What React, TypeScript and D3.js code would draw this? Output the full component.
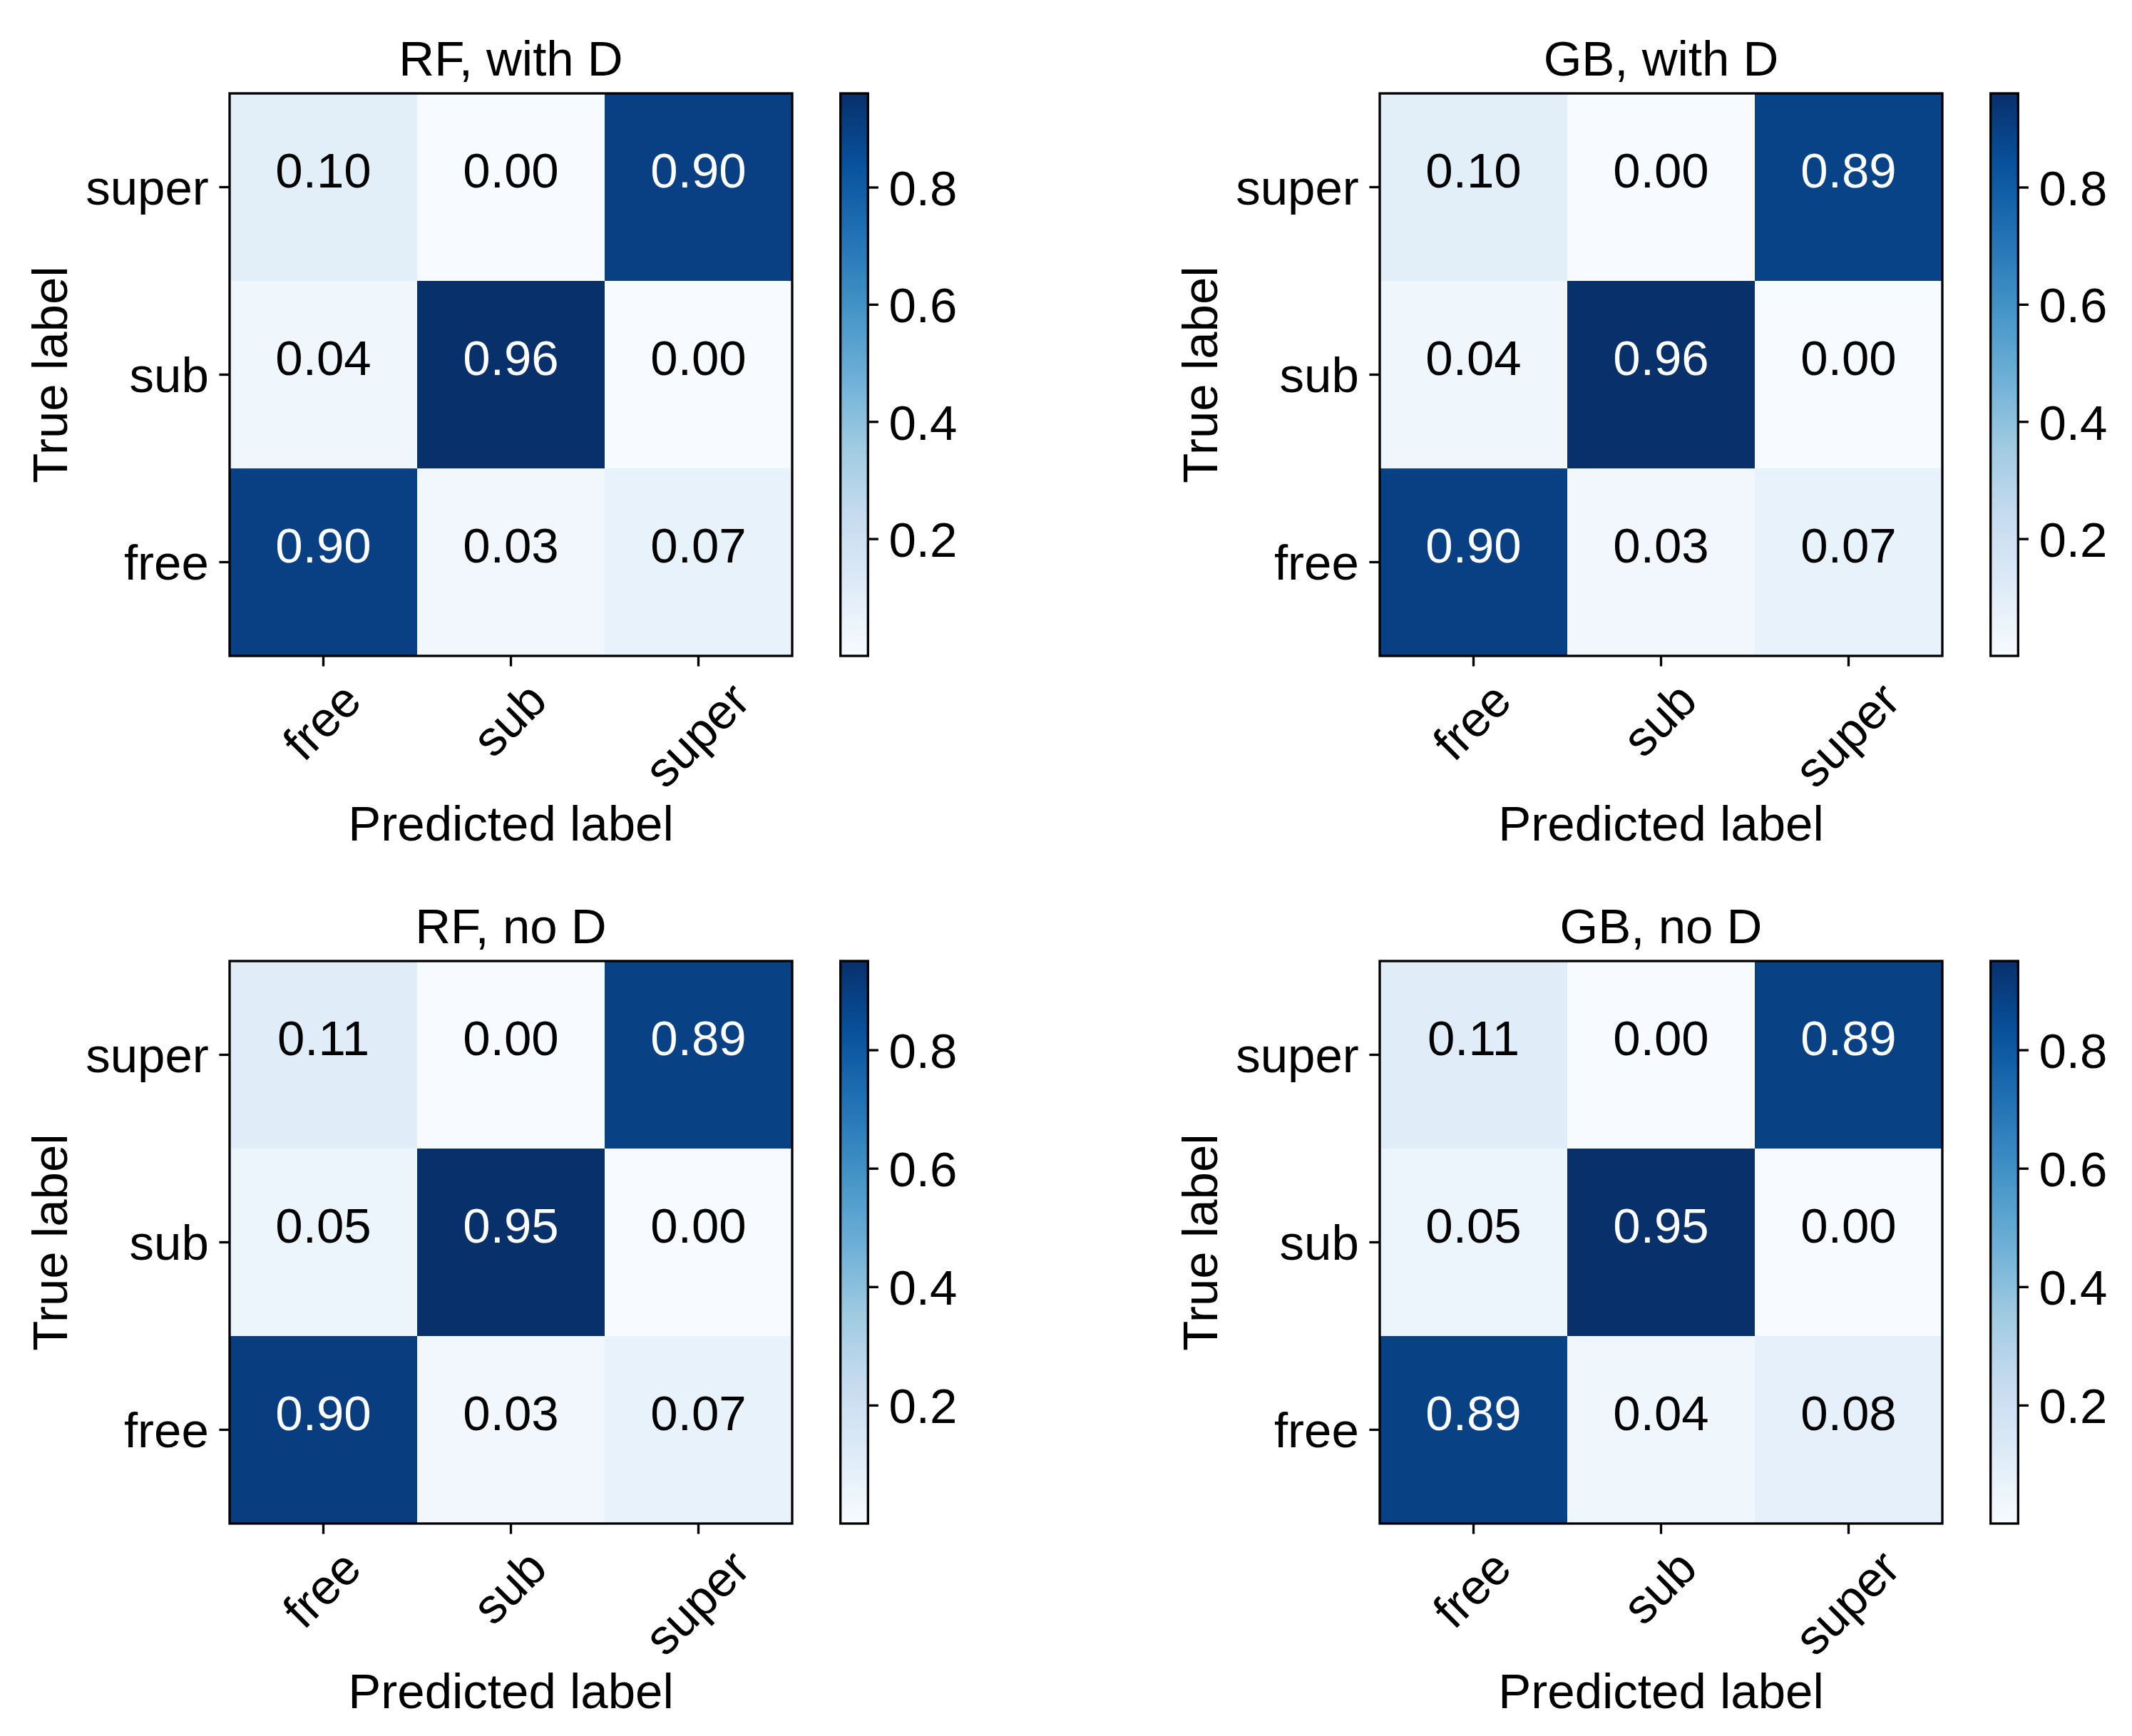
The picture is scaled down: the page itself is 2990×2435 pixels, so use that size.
import React, { useEffect, useRef } from 'react';
import * as d3 from 'd3';

const classes = ['free', 'sub', 'super'];
const panelTitles = ['RF, with D', 'GB, with D', 'RF, no D', 'GB, no D'];

// rows = true label (free, sub, super), columns = predicted label
const rfWithD = [
  [0.90, 0.03, 0.07],
  [0.04, 0.96, 0.00],
  [0.10, 0.00, 0.90],
];
const gbWithD = [
  [0.90, 0.03, 0.07],
  [0.04, 0.96, 0.00],
  [0.10, 0.00, 0.89],
];
const rfNoD = [
  [0.90, 0.03, 0.07],
  [0.05, 0.95, 0.00],
  [0.11, 0.00, 0.89],
];
const gbNoD = [
  [0.89, 0.04, 0.08],
  [0.05, 0.95, 0.00],
  [0.11, 0.00, 0.89],
];
const matrices = [rfWithD, gbWithD, rfNoD, gbNoD];
const colorbarTicks = [0.2, 0.4, 0.6, 0.8];

// matplotlib "Blues"
const blues = ['#f7fbff', '#deebf7', '#c6dbef', '#9ecae1', '#6baed6', '#4292c6', '#2171b5', '#08519c', '#08306b'];

const W = 2990;
const H = 2435;
const FS = 69;
const FONT = '"Liberation Sans", Arial, sans-serif';
const LW = 3.33;
const TICK = 14.6;
const PAD = 14.6;
const SIZE = 789;
const origins = [[322, 131], [1935, 131], [322, 1348], [1935, 1348]];

const App: React.FC = () => {
  const ref = useRef<SVGSVGElement | null>(null);

  useEffect(() => {
    document.body.style.margin = '0';
    const svg = d3.select(ref.current);
    svg.selectAll('*').remove();
    const defs = svg.append('defs');

    matrices.forEach((m, idx) => {
      const [ox, oy] = origins[idx];
      const g = svg.append('g')
        .attr('transform', `translate(${ox},${oy})`)
        .attr('font-family', FONT)
        .attr('font-size', FS);

      const x = d3.scaleBand().domain(classes).range([0, SIZE]);
      const y = d3.scaleBand().domain(classes).range([SIZE, 0]);
      const flat = m.flat();
      const vmin = d3.min(flat) || 0;
      const vmax = d3.max(flat) || 1;
      const color = d3.scaleLinear<string>()
        .domain(blues.map((_, i) => vmin + (vmax - vmin) * i / (blues.length - 1)))
        .range(blues)
        .interpolate(d3.interpolateRgb);

      const cells = m.flatMap((row, i) => row.map((v, j) => ({ t: classes[i], p: classes[j], v })));

      g.selectAll('.cell')
        .data(cells)
        .enter().append('rect')
        .attr('x', d => x(d.p) || 0)
        .attr('y', d => y(d.t) || 0)
        .attr('width', x.bandwidth())
        .attr('height', y.bandwidth())
        .attr('fill', d => color(d.v))
        .attr('shape-rendering', 'crispEdges');

      g.selectAll('.val')
        .data(cells)
        .enter().append('text')
        .attr('x', d => (x(d.p) || 0) + x.bandwidth() / 2)
        .attr('y', d => (y(d.t) || 0) + y.bandwidth() / 2)
        .attr('text-anchor', 'middle')
        .attr('fill', d => (d.v > vmax / 2 ? 'white' : 'black'))
        .text(d => d3.format('.2f')(d.v));

      g.append('rect')
        .attr('width', SIZE)
        .attr('height', SIZE)
        .attr('fill', 'none')
        .attr('stroke', 'black')
        .attr('stroke-width', LW);

      // x axis, labels rotated 45deg and centred on the tick
      const gx = g.append('g')
        .attr('transform', `translate(0,${SIZE})`)
        .call(d3.axisBottom(x).tickSize(TICK).tickPadding(PAD));
      gx.select('.domain').remove();
      gx.selectAll('line').attr('stroke-width', LW);
      gx.selectAll<SVGTextElement, string>('text')
        .attr('font-size', FS)
        .attr('font-family', FONT)
        .attr('y', null)
        .attr('dy', null)
        .each(function () {
          const w = this.getComputedTextLength();
          const h = 0.93 * FS;
          const side = (w + h) * Math.SQRT1_2;
          const cy = TICK + PAD + side / 2;
          d3.select(this)
            .attr('text-anchor', 'middle')
            .attr('transform', `translate(0,${cy}) rotate(-45)`)
            .attr('y', 0.3 * FS);
        });

      // y axis
      const gy = g.append('g').call(d3.axisLeft(y).tickSize(TICK).tickPadding(PAD));
      gy.select('.domain').remove();
      gy.selectAll('line').attr('stroke-width', LW);
      gy.selectAll('text')
        .attr('font-size', FS)
        .attr('font-family', FONT)
        .attr('dy', '0.36em');

      g.append('text')
        .attr('x', SIZE / 2)
        .attr('y', -25)
        .attr('text-anchor', 'middle')
        .text(panelTitles[idx]);

      g.append('text')
        .attr('x', SIZE / 2)
        .attr('y', SIZE + 259)
        .attr('text-anchor', 'middle')
        .text('Predicted label');

      g.append('text')
        .attr('transform', `translate(-228,${SIZE / 2}) rotate(-90)`)
        .attr('text-anchor', 'middle')
        .text('True label');

      // colorbar
      const gradId = `cb-grad-${idx}`;
      const grad = defs.append('linearGradient')
        .attr('id', gradId)
        .attr('x1', 0).attr('y1', 1).attr('x2', 0).attr('y2', 0);
      blues.forEach((c, i) => {
        grad.append('stop').attr('offset', i / (blues.length - 1)).attr('stop-color', c);
      });

      const cbX = SIZE + 67.7;
      const cbW = 38.6;
      const yc = d3.scaleLinear().domain([vmin, vmax]).range([SIZE, 0]);
      const cb = g.append('g').attr('transform', `translate(${cbX},0)`);
      cb.append('rect')
        .attr('width', cbW)
        .attr('height', SIZE)
        .attr('fill', `url(#${gradId})`);
      cb.append('rect')
        .attr('width', cbW)
        .attr('height', SIZE)
        .attr('fill', 'none')
        .attr('stroke', 'black')
        .attr('stroke-width', LW);
      const gc = cb.append('g')
        .attr('transform', `translate(${cbW},0)`)
        .call(d3.axisRight(yc).tickValues(colorbarTicks).tickSize(TICK).tickPadding(PAD).tickFormat(d3.format('.1f')));
      gc.select('.domain').remove();
      gc.selectAll('line').attr('stroke-width', LW);
      gc.selectAll('text')
        .attr('font-size', FS)
        .attr('font-family', FONT)
        .attr('dy', '0.36em');
    });
  }, []);

  return <svg ref={ref} width={W} height={H} style={{ display: 'block', background: 'white' }} />;
};

export default App;
